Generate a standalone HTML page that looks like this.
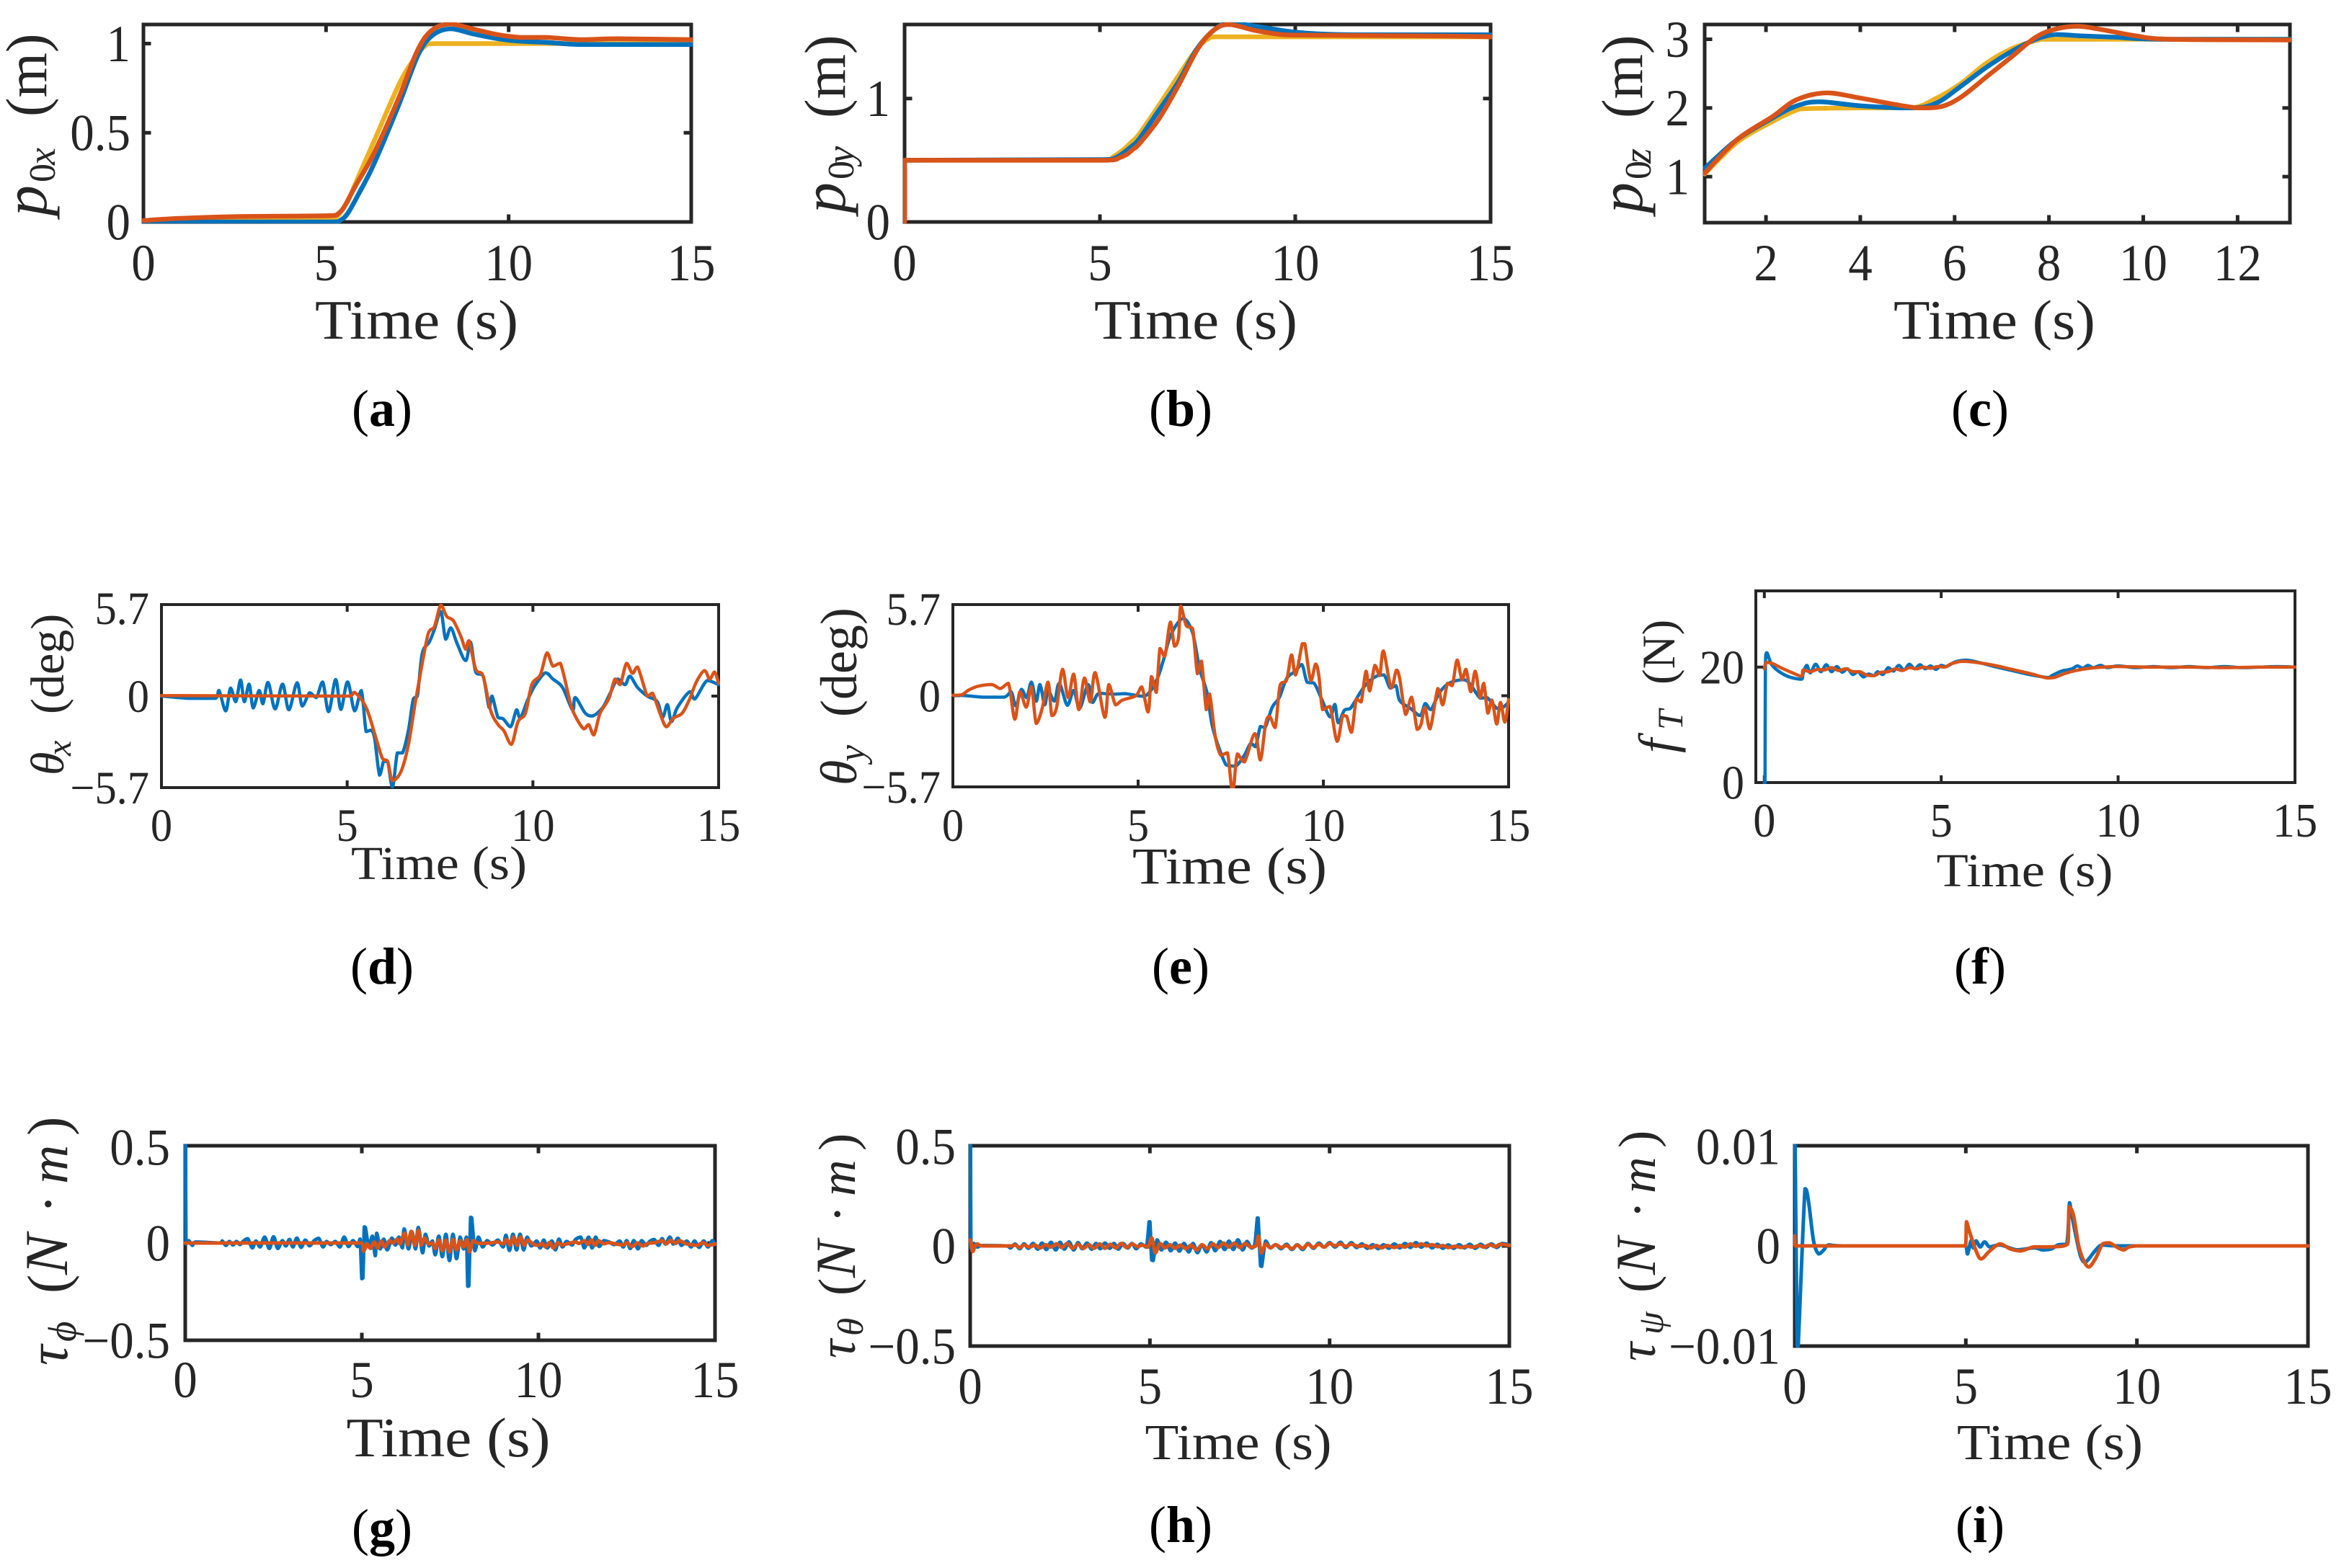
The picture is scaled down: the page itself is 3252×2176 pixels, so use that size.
<!DOCTYPE html>
<html lang="en">
<head>
<meta charset="utf-8">
<title>Simulation response panels</title>
<style>
html,body{margin:0;padding:0;background:#fff;}
svg{display:block;}
text{font-family:"Liberation Serif","DejaVu Serif",serif;fill:#262626;}
.cap{fill:#000;font-size:72px;text-anchor:middle;}
.cap tspan{font-weight:bold;}
.xl{text-anchor:middle;}
.yl{text-anchor:start;}
.i{font-style:italic;}
</style>
</head>
<body>
<svg id="fig" xmlns="http://www.w3.org/2000/svg" width="3252" height="2176" viewBox="0 0 3252 2176">
<rect width="3252" height="2176" fill="#fff"/>
<g id="plots"></g>

<text class="xl" x="578" y="470" font-size="77" textLength="282" lengthAdjust="spacingAndGlyphs">Time (s)</text>
<text class="xl" x="1659" y="470" font-size="77" textLength="282" lengthAdjust="spacingAndGlyphs">Time (s)</text>
<text class="xl" x="2767" y="470" font-size="77" textLength="280" lengthAdjust="spacingAndGlyphs">Time (s)</text>
<text class="xl" x="609" y="1220" font-size="66" textLength="244" lengthAdjust="spacingAndGlyphs">Time (s)</text>
<text class="xl" x="1706" y="1226" font-size="72" textLength="270" lengthAdjust="spacingAndGlyphs">Time (s)</text>
<text class="xl" x="2809" y="1230" font-size="66" textLength="245" lengthAdjust="spacingAndGlyphs">Time (s)</text>
<text class="xl" x="622" y="2021" font-size="77" textLength="283" lengthAdjust="spacingAndGlyphs">Time (s)</text>
<text class="xl" x="1718" y="2025" font-size="70" textLength="259" lengthAdjust="spacingAndGlyphs">Time (s)</text>
<text class="xl" x="2844" y="2025" font-size="70" textLength="258" lengthAdjust="spacingAndGlyphs">Time (s)</text>

<text class="yl" transform="translate(64,300) rotate(-90)" font-size="80"><tspan class="i" font-size="86" x="0" y="0">p</tspan><tspan font-size="52" x="47" y="12">0</tspan><tspan class="i" font-size="54" x="71" y="12">x</tspan><tspan x="138" y="0">(m)</tspan></text>
<text class="yl" transform="translate(1172,296) rotate(-90)" font-size="80"><tspan class="i" font-size="86" x="0" y="0">p</tspan><tspan font-size="52" x="47" y="12">0</tspan><tspan class="i" font-size="54" x="69" y="12">y</tspan><tspan x="132" y="0">(m)</tspan></text>
<text class="yl" transform="translate(2278,296) rotate(-90)" font-size="80"><tspan class="i" font-size="86" x="0" y="0">p</tspan><tspan font-size="52" x="47" y="12">0</tspan><tspan class="i" font-size="54" x="69" y="12">z</tspan><tspan x="132" y="0">(m)</tspan></text>
<text class="yl" transform="translate(88,1076) rotate(-90)" font-size="66"><tspan class="i" x="0" y="0">θ</tspan><tspan class="i" font-size="48" x="27" y="10">x</tspan><tspan x="85" y="0">(deg)</tspan></text>
<text class="yl" transform="translate(1188,1090) rotate(-90)" font-size="72"><tspan class="i" x="0" y="0">θ</tspan><tspan class="i" font-size="52" x="33" y="11">y</tspan><tspan x="95" y="0">(deg)</tspan></text>
<text class="yl" transform="translate(2323,1045) rotate(-90)" font-size="65"><tspan class="i" font-size="72" x="0" y="0">f</tspan><tspan class="i" font-size="50" x="32" y="11">T</tspan><tspan x="95" y="0">(N)</tspan></text>
<text class="yl" transform="translate(93,1895) rotate(-90)" font-size="79"><tspan class="i" x="0" y="0">τ</tspan><tspan class="i" font-size="55" x="33" y="12">ϕ</tspan><tspan x="100" y="0">(</tspan><tspan class="i" font-size="85" x="126" y="0">N</tspan><tspan x="211" y="0">·</tspan><tspan class="i" font-size="75" x="252" y="0">m</tspan><tspan x="319" y="0">)</tspan></text>
<text class="yl" transform="translate(1186,1885) rotate(-90)" font-size="73"><tspan class="i" x="0" y="0">τ</tspan><tspan class="i" font-size="51" x="31" y="11">θ</tspan><tspan x="87" y="0">(</tspan><tspan class="i" font-size="78" x="112" y="0">N</tspan><tspan x="188" y="0">·</tspan><tspan class="i" font-size="70" x="225" y="0">m</tspan><tspan x="288" y="0">)</tspan></text>
<text class="yl" transform="translate(2296,1889) rotate(-90)" font-size="73"><tspan class="i" x="0" y="0">τ</tspan><tspan class="i" font-size="51" x="37" y="11">ψ</tspan><tspan x="95" y="0">(</tspan><tspan class="i" font-size="78" x="120" y="0">N</tspan><tspan x="198" y="0">·</tspan><tspan class="i" font-size="70" x="233" y="0">m</tspan><tspan x="296" y="0">)</tspan></text>

<text class="cap" x="530" y="591">(<tspan>a</tspan>)</text>
<text class="cap" x="1638" y="591">(<tspan>b</tspan>)</text>
<text class="cap" x="2747" y="591">(<tspan>c</tspan>)</text>
<text class="cap" x="530" y="1365">(<tspan>d</tspan>)</text>
<text class="cap" x="1638" y="1365">(<tspan>e</tspan>)</text>
<text class="cap" x="2747" y="1365">(<tspan>f</tspan>)</text>
<text class="cap" x="530" y="2144">(<tspan>g</tspan>)</text>
<text class="cap" x="1638" y="2140">(<tspan>h</tspan>)</text>
<text class="cap" x="2747" y="2140">(<tspan>i</tspan>)</text>
</svg>

<script>
// ---- Tick values and labels ----
const xTicksStd = [0, 5, 10, 15];
const xLabelsStd = ['0', '5', '10', '15'];
const xTicksC = [2, 4, 6, 8, 10, 12];
const xLabelsC = ['2', '4', '6', '8', '10', '12'];
const yTicksA = [0, 0.5, 1];
const yLabelsA = ['0', '0.5', '1'];
const yTicksB = [0, 1];
const yLabelsB = ['0', '1'];
const yTicksC = [1, 2, 3];
const yLabelsC = ['1', '2', '3'];
const yTicksAngle = [-5.7, 0, 5.7];
const yLabelsAngle = ['\u22125.7', '0', '5.7'];
const yTicksF = [0, 20];
const yLabelsF = ['0', '20'];
const yTicksTorque = [-0.5, 0, 0.5];
const yLabelsTorque = ['\u22120.5', '0', '0.5'];
const yTicksYaw = [-0.01, 0, 0.01];
const yLabelsYaw = ['\u22120.01', '0', '0.01'];

// ---- Series: [time (s), value] samples ----
const aRef = [[0,0],[5.1,.016],[5.3,.03],[5.45,.07],[5.62,.127],[5.9,.26],[6.3,.446],[6.98,.764],[7.39,.908],[7.7,.985],[8,1],[15,1]];
const aBlue = [[0,0],[5.2,0],[5.4,.01],[5.6,.05],[5.9,.16],[6.3,.32],[6.98,.65],[7.53,.94],[7.94,1.05],[8.42,1.083],[9.03,1.054],[9.71,1.027],[10.26,1.014],[11.08,1.006],[11.9,.995],[13.1,.995],[15,.995]];
const aRed = [[0,.008],[1,.02],[2.5,.03],[5.2,.036],[5.35,.05],[5.5,.085],[5.8,.2],[6.3,.38],[7,.7],[7.5,.96],[7.9,1.075],[8.4,1.11],[9,1.083],[9.7,1.05],[10.3,1.035],[11,1.035],[12,1.022],[13,1.027],[15,1.022]];

const bRef = [[0,0],[0,.5],[5.1,.5],[5.35,.53],[5.6,.586],[5.8,.645],[6,.71],[6.5,.94],[7,1.18],[7.5,1.41],[7.8,1.49],[8,1.5],[15,1.5]];
const bBlue = [[0,0],[0,.5],[5.1,.505],[5.4,.52],[5.6,.56],[5.8,.61],[6,.67],[6.5,.9],[7,1.13],[7.5,1.41],[8,1.575],[8.4,1.61],[9,1.585],[9.7,1.55],[10.3,1.53],[11.5,1.517],[15,1.517]];
const bRed = [[0,0],[0,.5],[5.2,.5],[5.5,.52],[5.7,.55],[5.85,.59],[6,.63],[6.5,.83],[7,1.1],[7.5,1.4],[7.9,1.55],[8.3,1.6],[9,1.55],[9.7,1.517],[10.5,1.513],[12,1.51],[14,1.506],[15,1.5]];

const cRef = [[.7,1.04],[1.39,1.5],[2.13,1.8],[2.65,1.97],[2.87,1.99],[4.03,2],[5.08,2],[5.61,2.14],[6.14,2.36],[6.67,2.65],[7.2,2.86],[7.72,2.98],[7.99,3],[13.11,3]];
const cBlue = [[.7,1.12],[1.39,1.54],[2.13,1.85],[2.65,2.03],[3.13,2.09],[4.03,2.03],[5.08,2],[5.61,2.07],[6.14,2.32],[6.67,2.59],[7.2,2.82],[7.72,3],[8.15,3.07],[8.67,3.05],[9.41,3.03],[10.36,3],[13.11,3]];
const cRed = [[.7,1.05],[1.39,1.54],[2.13,1.87],[2.65,2.12],[3.29,2.22],[4.03,2.14],[4.66,2.06],[5.24,2],[5.72,2.02],[6.14,2.16],[6.67,2.45],[7.2,2.74],[7.72,3.03],[8.15,3.15],[8.62,3.19],[9.2,3.13],[9.84,3.05],[10.57,3],[13.11,2.99]];

const dBlue = [[0,0],[.75,-.14],[1.45,-.14],[1.55,.35],[1.73,-.92],[1.86,.5],[2,-.35],[2.13,1],[2.23,-.35],[2.36,.74],[2.47,-.74],[2.63,.35],[2.73,-.48],[2.87,.85],[3.06,-.8],[3.26,.74],[3.43,-.85],[3.65,.83],[3.79,-.62],[3.99,.21],[4.17,-.09],[4.34,.88],[4.5,-.97],[4.69,1.03],[4.83,-.83],[5.01,.88],[5.2,-.92],[5.38,.35],[5.51,-2.21],[5.64,-2.12],[5.74,-2.65],[5.87,-4.92],[5.98,-4.07],[6.09,-4.07],[6.22,-5.66],[6.35,-3.54],[6.49,-3.54],[6.65,-2.12],[6.78,-.18],[6.89,0],[7.02,2.65],[7.21,3.36],[7.35,4.16],[7.52,5.27],[7.65,3.54],[7.79,4.25],[7.96,3.27],[8.19,2.21],[8.32,3.36],[8.46,1.5],[8.66,1.24],[8.82,-.71],[8.9,0],[9.06,-1.33],[9.2,-1.42],[9.4,-1.91],[9.56,-.85],[9.66,-1.38],[9.87,-.18],[10.07,.71],[10.34,1.45],[10.54,1.06],[10.8,.53],[11.07,-.88],[11.14,-.09],[11.41,-1.06],[11.61,-1.24],[11.88,-.71],[12.08,.18],[12.28,1.06],[12.48,.71],[12.61,1.24],[12.82,.53],[13.08,0],[13.35,-.35],[13.49,-1.33],[13.62,-.53],[13.73,-1.59],[13.89,-.71],[14.22,.27],[14.36,-.18],[14.69,.97],[15,.71]];
const dRed = [[0,.03],[5.04,0],[5.2,.23],[5.51,-.71],[5.78,-2.65],[5.95,-3.89],[6.09,-4.07],[6.22,-5.27],[6.45,-4.69],[6.65,-3.01],[6.85,-.18],[7.18,3.89],[7.35,4.34],[7.52,5.66],[7.68,4.96],[7.86,4.69],[8.06,3.72],[8.19,2.92],[8.28,3.45],[8.46,1.68],[8.66,1.24],[8.86,-.88],[9.06,-1.77],[9.22,-2.16],[9.42,-3.01],[9.6,-1.59],[9.8,-1.06],[9.97,.71],[10.2,1.33],[10.38,2.69],[10.54,1.86],[10.74,2.04],[11,-.35],[11.14,-1.24],[11.37,-2.04],[11.5,-1.77],[11.64,-2.42],[11.81,-1.06],[12.04,-.18],[12.21,1.06],[12.35,.71],[12.52,2.04],[12.68,1.42],[12.82,1.81],[13.08,0],[13.22,.18],[13.42,-1.06],[13.59,-1.91],[13.78,-1.38],[14.02,-1.06],[14.22,-.18],[14.4,.88],[14.62,1.59],[14.76,1.06],[14.89,1.5],[15,.8]];

const eBlue = [[0,.03],[.37,0],[.82,-.09],[1.38,-.09],[1.57,.25],[1.7,-.64],[1.85,.4],[1.99,-.12],[2.12,.85],[2.25,-.34],[2.35,.7],[2.48,-.57],[2.57,.33],[2.74,-.34],[2.87,.78],[3.09,-.6],[3.26,.33],[3.42,-.79],[3.65,.7],[3.77,-.42],[3.94,.15],[4.33,.1],[4.65,.13],[5.17,-.04],[5.49,.93],[5.69,2.28],[5.88,3.78],[6.21,4.83],[6.47,3.93],[6.66,1.68],[6.86,.18],[7.02,-2.07],[7.37,-4.32],[7.57,-4.4],[7.68,-4.32],[7.87,-3.72],[8.04,-2.97],[8.17,-3.19],[8.3,-1.92],[8.43,-1.99],[8.62,-.72],[8.81,-.12],[9.01,1.08],[9.24,1.53],[9.42,1.95],[9.56,.85],[9.75,.78],[9.95,-.19],[10.18,-1.32],[10.31,-.54],[10.4,-1.69],[10.57,-.9],[10.73,-.79],[10.99,.18],[11.18,.78],[11.44,1.23],[11.64,1.3],[11.8,.48],[11.96,.63],[12.06,-.3],[12.35,-.79],[12.61,-1.24],[12.75,-.49],[12.9,-.87],[13.13,.18],[13.39,.78],[13.78,1],[13.97,.7],[14.23,-.15],[14.42,-.12],[14.68,-.79],[14.81,-.79],[15,-.42]];
const eRed = [[0,.03],[.24,.06],[.43,.36],[.69,.6],[1.05,.7],[1.28,.45],[1.5,.78],[1.67,-1.47],[1.81,.25],[1.98,-.72],[2.12,.55],[2.25,-1.74],[2.41,-.79],[2.57,.85],[2.67,-1.24],[2.8,-.72],[2.96,1.65],[3.11,-.12],[3.26,1.35],[3.4,-.87],[3.55,1.11],[3.71,-.39],[3.84,1.45],[4.1,-1.35],[4.21,.7],[4.39,-.57],[4.58,-.27],[4.94,0],[5.1,.55],[5.27,-1.02],[5.36,1.2],[5.49,.21],[5.59,2.95],[5.72,2.46],[5.87,4.6],[5.98,3.1],[6.09,3.63],[6.15,5.6],[6.3,4.38],[6.47,4.2],[6.6,1.38],[6.71,2.16],[6.84,-.87],[6.93,.1],[7.08,-2.52],[7.23,-3.72],[7.41,-3.57],[7.52,-5.7],[7.58,-5.7],[7.68,-3.64],[7.87,-4.14],[8.15,-2.37],[8.3,-4.02],[8.44,-1.77],[8.55,-1.29],[8.7,-1.99],[8.83,.63],[9.01,1],[9.14,2.55],[9.25,1.3],[9.43,3.25],[9.5,3.25],[9.66,.93],[9.79,1.98],[9.88,1.23],[9.98,-.87],[10.18,-.67],[10.37,-2.85],[10.52,-1.24],[10.63,-1.29],[10.76,-2.29],[10.89,-.19],[11.02,-.39],[11.15,1.53],[11.25,.3],[11.39,1.9],[11.52,1.26],[11.62,2.8],[11.83,.48],[11.97,1.6],[12.06,1.08],[12.22,-1.17],[12.38,-.09],[12.53,-2.1],[12.64,-1.77],[12.74,-.72],[12.88,-2.07],[13.09,.45],[13.22,-.57],[13.35,.78],[13.48,.63],[13.61,2.23],[13.74,1],[13.85,1.65],[13.98,.25],[14.1,1.53],[14.23,-.12],[14.33,.78],[14.44,-1.09],[14.55,-.27],[14.68,-1.77],[14.78,-.42],[14.9,-1.65],[15,-.24]];

const fBlue = [[0,0],[.02,0],[.03,20],[.07,22.5],[.2,20.5],[.4,19.3],[.7,18.3],[1.05,17.9],[1.1,19],[1.2,20.3],[1.3,19],[1.45,20.5],[1.6,19.2],[1.75,20.4],[1.9,19.2],[2.05,20.1],[2.2,19.1],[2.35,19.7],[2.5,18.7],[2.65,19.2],[2.8,18.3],[2.95,18.8],[3.1,18.5],[3.2,19.2],[3.35,18.7],[3.5,19.9],[3.65,19.3],[3.8,20.3],[3.95,19.5],[4.1,20.5],[4.25,19.7],[4.4,20.4],[4.55,19.7],[4.7,20.2],[4.85,19.6],[5,20.3],[5.15,20.1],[5.4,20.9],[5.7,21.2],[6,20.9],[6.5,20.1],[7,19.4],[7.5,18.7],[8,18.2],[8.15,18.6],[8.4,19.3],[8.55,19.5],[8.7,19.7],[8.85,20.2],[9,19.8],[9.15,20.3],[9.3,19.9],[9.5,20.3],[9.7,19.9],[10,20.2],[10.5,19.9],[11,20.1],[11.5,19.9],[12,20.1],[12.5,19.9],[13,20.1],[13.5,19.9],[14,20],[14.5,20.1],[15,20]];
const fRed = [[0,19.7],[.05,20.8],[.2,20.7],[.5,19.8],[.8,19],[1.05,18.4],[1.1,19.5],[1.3,19.2],[1.5,19.6],[1.7,19.5],[1.9,19.9],[2.1,19.4],[2.3,19.7],[2.5,19.2],[2.7,19.2],[2.9,18.6],[3.1,18.5],[3.3,19.1],[3.5,19.2],[3.7,19.7],[3.9,19.4],[4.1,19.9],[4.3,19.7],[4.5,20],[4.7,19.8],[4.9,20.1],[5.1,20],[5.3,20.6],[5.6,21],[6,20.8],[6.5,20.3],[7,19.6],[7.5,18.9],[8,18.1],[8.2,18.2],[8.5,18.9],[8.8,19.4],[9.2,19.8],[9.6,20],[10,20.1],[11,20],[12,20],[13,19.9],[14,20],[15,20]];

const gBlue = [[0,.5],[.01,.5],[.02,-.005],[.1,.012],[.2,-.012],[.3,.005],[1,0],[1.05,.01],[1.15,-.012],[1.25,.008],[1.35,-.01],[1.45,.008],[1.55,-.008],[1.65,.01],[1.77,.022],[1.9,-.025],[2,.01],[2.12,-.02],[2.25,.03],[2.38,-.028],[2.5,.032],[2.62,-.028],[2.75,.012],[2.85,-.015],[2.95,.018],[3.05,-.02],[3.16,.025],[3.28,-.022],[3.4,.015],[3.52,-.014],[3.65,.012],[3.78,.024],[3.9,-.02],[4,.008],[4.12,-.008],[4.25,.008],[4.38,-.02],[4.5,.03],[4.62,-.018],[4.75,.012],[4.88,-.018],[4.95,.02],[5,-.183],[5.03,-.18],[5.07,.083],[5.1,.08],[5.2,-.02],[5.3,.035],[5.38,-.065],[5.42,.05],[5.52,-.03],[5.62,.02],[5.72,-.035],[5.85,.025],[5.95,-.01],[6.05,.03],[6.15,-.025],[6.2,.072],[6.32,-.03],[6.42,.055],[6.52,-.03],[6.6,.08],[6.72,-.05],[6.8,.045],[6.9,-.015],[7,.01],[7.08,-.06],[7.18,.035],[7.28,-.07],[7.38,.045],[7.48,-.09],[7.58,.045],[7.68,-.08],[7.78,.03],[7.88,-.03],[7.96,.03],[8,-.222],[8.03,-.22],[8.08,.132],[8.11,.13],[8.2,-.04],[8.3,.03],[8.42,-.02],[8.55,.012],[8.7,-.01],[8.85,.015],[9,-.02],[9.08,.04],[9.18,-.038],[9.28,.045],[9.38,-.035],[9.48,.045],[9.58,-.035],[9.68,.03],[9.8,-.015],[9.95,.01],[10.05,-.025],[10.15,.015],[10.25,-.025],[10.38,.01],[10.48,-.035],[10.58,.02],[10.68,-.02],[10.8,.008],[10.95,-.01],[11.05,.018],[11.2,.03],[11.3,-.025],[11.42,.03],[11.52,-.025],[11.62,.03],[11.72,-.018],[11.85,.012],[12,.005],[12.15,-.008],[12.3,.01],[12.4,-.02],[12.5,.012],[12.6,-.028],[12.7,.012],[12.82,-.03],[12.92,.012],[13.05,-.012],[13.15,.008],[13.28,.018],[13.4,-.012],[13.5,.022],[13.6,-.005],[13.72,.03],[13.82,-.005],[13.95,.024],[14.05,-.012],[14.2,.01],[14.32,-.02],[14.42,.01],[14.55,-.022],[14.68,.01],[14.8,-.02],[14.92,.012],[15,-.008]];
const gRed = [[0,0],[5,0],[5.05,-.042],[5.15,-.005],[5.25,-.028],[5.35,.005],[5.45,-.025],[5.55,.01],[5.65,-.02],[5.78,.012],[5.88,0],[6,.02],[6.08,-.005],[6.15,.03],[6.22,.05],[6.3,-.01],[6.4,.06],[6.5,-.012],[6.6,.065],[6.68,-.01],[6.78,.025],[6.88,-.005],[7,0],[7.08,-.028],[7.18,.015],[7.28,-.04],[7.38,.015],[7.48,-.045],[7.58,.018],[7.68,-.035],[7.78,.012],[7.88,-.02],[7.98,.018],[8.05,-.045],[8.15,.012],[8.3,-.002],[8.6,0],[8.85,.005],[9,-.005],[9.1,.018],[9.2,-.01],[9.3,.03],[9.4,-.012],[9.5,.03],[9.6,-.012],[9.7,.015],[9.85,-.005],[10,-.012],[10.1,-.002],[10.2,-.02],[10.32,.003],[10.42,-.025],[10.55,.002],[10.65,-.01],[10.85,-.002],[11.05,.005],[11.15,-.002],[11.3,.012],[11.4,-.007],[11.5,.016],[11.6,-.012],[11.7,.012],[11.85,-.004],[12,.002],[12.2,-.005],[12.4,-.01],[12.5,.003],[12.65,-.018],[12.8,0],[12.95,-.015],[13.1,-.002],[13.3,.002],[13.5,.012],[13.62,-.004],[13.75,.014],[13.88,-.002],[14,.012],[14.15,-.002],[14.3,-.008],[14.5,-.012],[14.65,.002],[14.8,-.012],[15,-.005]];

const hBlue = [[0,.5],[.01,.5],[.02,-.012],[.1,.012],[.2,-.006],[.35,.002],[1,0],[1.12,-.01],[1.25,.009],[1.38,-.014],[1.5,.01],[1.62,-.012],[1.75,.012],[1.88,-.016],[2,.014],[2.12,-.018],[2.25,.018],[2.38,-.02],[2.5,.018],[2.62,-.016],[2.75,.02],[2.88,-.02],[3,.016],[3.12,-.014],[3.25,.014],[3.38,-.016],[3.5,.012],[3.62,-.014],[3.75,.014],[3.88,-.012],[4,.012],[4.12,-.016],[4.25,.012],[4.38,-.01],[4.5,.012],[4.62,-.014],[4.75,.01],[4.9,-.006],[4.98,.12],[5,.12],[5.05,-.07],[5.09,-.073],[5.2,.03],[5.32,-.02],[5.45,.018],[5.58,-.024],[5.7,.014],[5.82,-.026],[5.95,.012],[6.08,-.03],[6.2,.012],[6.32,-.034],[6.45,.006],[6.58,-.03],[6.7,.016],[6.82,-.024],[6.95,.022],[7.08,-.018],[7.2,.024],[7.32,-.018],[7.45,.03],[7.58,-.02],[7.7,.022],[7.82,-.01],[7.92,.01],[7.99,.139],[8.01,.139],[8.08,-.1],[8.11,-.102],[8.22,.024],[8.35,-.01],[8.5,.006],[8.65,-.014],[8.8,.008],[8.95,-.018],[9.1,.006],[9.25,-.018],[9.4,.012],[9.55,-.012],[9.7,.014],[9.85,-.006],[10,.016],[10.15,-.006],[10.3,.018],[10.45,-.008],[10.6,.016],[10.75,-.008],[10.9,.01],[11.05,-.012],[11.2,.006],[11.35,-.014],[11.5,.006],[11.65,-.012],[11.8,.01],[11.95,-.01],[12.1,.012],[12.25,-.008],[12.4,.016],[12.55,-.006],[12.7,.014],[12.85,-.01],[13,.008],[13.15,-.012],[13.3,.005],[13.45,-.012],[13.6,.006],[13.75,-.01],[13.9,.008],[14.05,-.012],[14.2,.008],[14.35,-.008],[14.5,.01],[14.65,-.008],[14.8,.012],[15,.005]];
const hRed = [[0,.03],[.04,0],[.07,-.028],[.14,0],[.2,.01],[.35,0],[1.1,0],[1.25,.004],[1.38,-.008],[1.5,.004],[1.65,-.006],[1.8,.004],[1.95,-.01],[2.1,.006],[2.25,-.006],[2.4,.01],[2.55,-.008],[2.7,.012],[2.85,-.012],[3,.008],[3.15,-.012],[3.3,.006],[3.45,-.012],[3.6,.01],[3.75,-.012],[3.9,.008],[4.05,-.01],[4.2,.012],[4.35,-.008],[4.5,.01],[4.65,-.004],[4.8,.004],[4.95,-.006],[5.05,.04],[5.15,-.035],[5.28,.012],[5.42,-.01],[5.56,.006],[5.7,-.012],[5.85,.004],[6,-.014],[6.15,.004],[6.3,-.02],[6.45,.006],[6.6,-.014],[6.75,.01],[6.9,-.008],[7.05,.014],[7.2,-.006],[7.35,.014],[7.5,-.008],[7.65,.012],[7.8,-.006],[7.95,0],[8.02,.05],[8.1,-.035],[8.22,.01],[8.35,-.01],[8.5,.006],[8.65,-.008],[8.8,.002],[8.95,-.014],[9.1,.004],[9.25,-.012],[9.4,.008],[9.55,-.008],[9.7,.008],[9.85,-.006],[10,.012],[10.15,0],[10.3,.01],[10.45,-.002],[10.6,.008],[10.8,-.002],[11,.002],[11.15,-.01],[11.3,.002],[11.45,-.01],[11.6,.002],[11.8,-.008],[11.95,.002],[12.1,-.006],[12.25,.01],[12.4,-.002],[12.55,.01],[12.7,0],[12.85,.006],[13,-.004],[13.15,.002],[13.3,-.008],[13.5,-.002],[13.65,-.008],[13.8,-.002],[14,-.006],[14.15,.002],[14.3,-.006],[14.45,.006],[14.6,-.004],[14.75,.008],[15,.002]];

const iBlue = [[0,.01],[.01,.01],[.07,-.01],[.1,-.01],[.3,.0057],[.4,.0045],[.55,.0005],[.7,-.0008],[.85,-.0004],[1,.0001],[1.5,0],[4.98,0],[5.05,-.0008],[5.15,.0005],[5.22,-.0002],[5.3,.0005],[5.42,-.0001],[5.55,.0004],[5.7,-.0001],[6,.0001],[6.5,-.0004],[7,-.0002],[7.25,-.0004],[7.5,-.0003],[7.7,.0001],[7.95,.0002],[8.03,.0043],[8.1,.003],[8.35,-.001],[8.5,-.0016],[8.8,-.0004],[9,.0001],[9.5,0],[15,0]];
const iRed = [[0,.001],[.02,0],[4.99,0],[5.02,.0024],[5.1,.0015],[5.3,-.0005],[5.45,-.0013],[5.7,-.0005],[6,.0002],[6.3,-.0003],[6.6,-.0005],[7,-.0001],[7.5,-.0001],[7.98,.0002],[8.02,.0039],[8.15,.003],[8.3,0],[8.45,-.0015],[8.6,-.0021],[8.8,-.0012],[9,.0002],[9.2,.0003],[9.6,-.0004],[10,0],[15,0]];

// ---- Colours ----
const BLUE = '#0072BD', RED = '#D95319', GOLD = '#EDB120', INK = '#262626';

// ---- Panel layout ----
const panels = [
  {id:'a', L:199,  T:34,  R:959,  B:308,  xlim:[0,15],       ylim:[0,1.107],     xt:xTicksStd, xl:xLabelsStd, yt:yTicksA,      yl:yLabelsA,      lab:181,  fs:72, xb:389,  lw:6.5, fw:5, top:0, curves:[['ref',aRef,GOLD],['blue',aBlue,BLUE],['red',aRed,RED]]},
  {id:'b', L:1255, T:34,  R:2068, B:308,  xlim:[0,15],       ylim:[0,1.6],       xt:xTicksStd, xl:xLabelsStd, yt:yTicksB,      yl:yLabelsB,      lab:1235, fs:72, xb:389,  lw:6.5, fw:5, top:0, curves:[['ref',bRef,GOLD],['blue',bBlue,BLUE],['red',bRed,RED]]},
  {id:'c', L:2365, T:34,  R:3177, B:309,  xlim:[.7,13.11],   ylim:[.33,3.215],   xt:xTicksC,   xl:xLabelsC,   yt:yTicksC,      yl:yLabelsC,      lab:2344, fs:72, xb:389,  lw:6.5, fw:5, top:0, curves:[['ref',cRef,GOLD],['blue',cBlue,BLUE],['red',cRed,RED]]},
  {id:'d', L:224,  T:839, R:997,  B:1093, xlim:[0,15],       ylim:[-5.7,5.7],    xt:xTicksStd, xl:xLabelsStd, yt:yTicksAngle,  yl:yLabelsAngle,  lab:207,  fs:65, xb:1167, lw:4.5, fw:4, top:5, curves:[['blue',dBlue,BLUE],['red',dRed,RED]]},
  {id:'e', L:1322, T:839, R:2093, B:1092, xlim:[0,15],       ylim:[-5.7,5.7],    xt:xTicksStd, xl:xLabelsStd, yt:yTicksAngle,  yl:yLabelsAngle,  lab:1305, fs:65, xb:1167, lw:4.5, fw:4, top:6, curves:[['blue',eBlue,BLUE],['red',eRed,RED]]},
  {id:'f', L:2436, T:820, R:3184, B:1086, xlim:[-.24,15],    ylim:[0,33.2],      xt:xTicksStd, xl:xLabelsStd, yt:yTicksF,      yl:yLabelsF,      lab:2420, fs:67, xb:1161, lw:4.5, fw:4, top:0, curves:[['blue',fBlue,BLUE],['red',fRed,RED]]},
  {id:'g', L:257,  T:1590,R:992,  B:1860, xlim:[0,15],       ylim:[-.5,.5],      xt:xTicksStd, xl:xLabelsStd, yt:yTicksTorque, yl:yLabelsTorque, lab:236,  fs:72, xb:1939, lw:5,   fw:5, top:2, curves:[['blue',gBlue,BLUE],['red',gRed,RED]]},
  {id:'h', L:1346, T:1590,R:2094, B:1868, xlim:[0,15],       ylim:[-.5,.5],      xt:xTicksStd, xl:xLabelsStd, yt:yTicksTorque, yl:yLabelsTorque, lab:1326, fs:72, xb:1948, lw:5,   fw:5, top:1, curves:[['blue',hBlue,BLUE],['red',hRed,RED]]},
  {id:'i', L:2490, T:1590,R:3202, B:1868, xlim:[0,15],       ylim:[-.01,.01],    xt:xTicksStd, xl:xLabelsStd, yt:yTicksYaw,    yl:yLabelsYaw,    lab:2470, fs:72, xb:1948, lw:5,   fw:5, top:1, curves:[['blue',iBlue,BLUE],['red',iRed,RED]]}
];

const NS = 'http://www.w3.org/2000/svg';
const TICK_LEN = 8;
const GLYPH_SCALE = 0.93;

function mk(tag, attrs, parent) {
  const el = document.createElementNS(NS, tag);
  for (const k in attrs) el.setAttribute(k, attrs[k]);
  parent.appendChild(el);
  return el;
}

function clamp(v, a, b) {
  const lo = Math.min(a, b), hi = Math.max(a, b);
  return Math.max(lo, Math.min(hi, v));
}

// Smooth path through samples; controls stay inside each segment's range so peaks don't overshoot.
function curvePath(pts) {
  let d = 'M' + pts[0][0].toFixed(2) + ' ' + pts[0][1].toFixed(2);
  for (let i = 0; i < pts.length - 1; i++) {
    const p0 = pts[Math.max(0, i - 1)], p1 = pts[i], p2 = pts[i + 1], p3 = pts[Math.min(pts.length - 1, i + 2)];
    const c1x = clamp(p1[0] + (p2[0] - p0[0]) / 6, p1[0], p2[0]);
    const c1y = clamp(p1[1] + (p2[1] - p0[1]) / 6, p1[1], p2[1]);
    const c2x = clamp(p2[0] - (p3[0] - p1[0]) / 6, p1[0], p2[0]);
    const c2y = clamp(p2[1] - (p3[1] - p1[1]) / 6, p1[1], p2[1]);
    d += 'C' + c1x.toFixed(2) + ' ' + c1y.toFixed(2) + ' ' + c2x.toFixed(2) + ' ' + c2y.toFixed(2) + ' ' + p2[0].toFixed(2) + ' ' + p2[1].toFixed(2);
  }
  return d;
}

const plots = document.getElementById('plots');
const defs = mk('defs', {}, plots);

panels.forEach(function (p) {
  const sx = function (t) { return p.L + (t - p.xlim[0]) / (p.xlim[1] - p.xlim[0]) * (p.R - p.L); };
  const sy = function (v) { return p.B - (v - p.ylim[0]) / (p.ylim[1] - p.ylim[0]) * (p.B - p.T); };

  const clip = mk('clipPath', {id: 'clip-' + p.id}, defs);
  mk('rect', {x: p.L - 2, y: p.T - 3, width: p.R - p.L + 4, height: p.B - p.T + 5}, clip);

  const g = mk('g', {}, plots);
  
  

  const frame = mk('rect', {x: p.L, y: p.T, width: p.R - p.L, height: p.B - p.T, fill: 'none', stroke: INK, 'stroke-width': p.fw}, g);
  
  

  p.xt.forEach(function (t, i) {
    const x = sx(t);
    const tb = mk('line', {x1: x, x2: x, y1: p.B, y2: p.B - TICK_LEN - p.fw / 2, stroke: INK, 'stroke-width': p.fw}, g);
    
    
    const tt = mk('line', {x1: x, x2: x, y1: p.T, y2: p.T + TICK_LEN + p.fw / 2, stroke: INK, 'stroke-width': p.fw}, g);
    
    
    const lb = mk('text', {transform: 'translate(' + x + ',' + p.xb + ') scale(' + GLYPH_SCALE + ',1)', 'font-size': p.fs, 'text-anchor': 'middle'}, g);
    lb.textContent = p.xl[i];
    
    
  });

  p.yt.forEach(function (v, i) {
    const y = sy(v);
    const tl = mk('line', {x1: p.L, x2: p.L + TICK_LEN + p.fw / 2, y1: y, y2: y, stroke: INK, 'stroke-width': p.fw}, g);
    
    
    const tr = mk('line', {x1: p.R, x2: p.R - TICK_LEN - p.fw / 2, y1: y, y2: y, stroke: INK, 'stroke-width': p.fw}, g);
    
    
    const shift = (i === p.yt.length - 1) ? p.top : 0;
    const lb = mk('text', {transform: 'translate(' + p.lab + ',' + (y + 0.338 * p.fs + shift) + ') scale(' + GLYPH_SCALE + ',1)', 'font-size': p.fs, 'text-anchor': 'end'}, g);
    lb.textContent = p.yl[i];
    
    
  });

  const cg = mk('g', {'clip-path': 'url(#clip-' + p.id + ')'}, g);
  
  
  p.curves.forEach(function (c) {
    const pts = c[1].map(function (s) { return [sx(s[0]), sy(s[1])]; });
    const line = mk('path', {d: curvePath(pts), fill: 'none', stroke: c[2], 'stroke-width': p.lw, 'stroke-linejoin': 'round', 'stroke-linecap': 'round'}, cg);
    
    
  });
});
</script>
</body>
</html>
